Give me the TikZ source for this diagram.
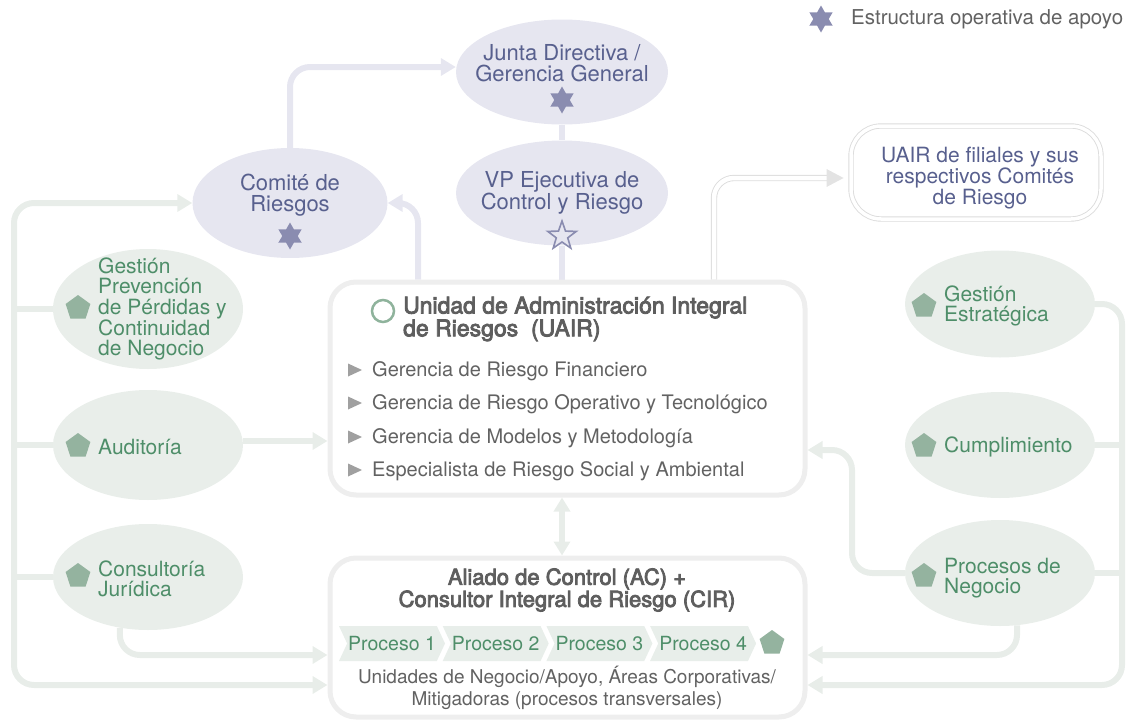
\documentclass[tikz,border=0pt]{standalone}
\usepackage{fontspec}
\setmainfont{TeX Gyre Heros}
\newfontfamily\mediumfont[FakeBold=3.5]{TeX Gyre Heros}
\usetikzlibrary{shapes.geometric,shapes.symbols,arrows.meta,calc}

\definecolor{lavfill}{HTML}{E6E6F0}
\definecolor{lavtext}{HTML}{58608E}
\definecolor{starc}{HTML}{8A8CB0}
\definecolor{grnfill}{HTML}{E9EEEA}
\definecolor{grntext}{HTML}{4E8E69}
\definecolor{pentc}{HTML}{94B39F}
\definecolor{lavline}{HTML}{E6E6F0}
\definecolor{grnline}{HTML}{E8EDE9}
\definecolor{boxline}{HTML}{EEEEEE}
\definecolor{bodytext}{HTML}{626262}
\definecolor{titletext}{HTML}{5E5E5E}
\definecolor{chevfill}{HTML}{E8EEEA}
\definecolor{dblline}{HTML}{DCDCDC}
\definecolor{bulletc}{HTML}{A0A0A0}
\definecolor{ringc}{HTML}{8FB39C}

\pgfdeclarelayer{bg}
\pgfsetlayers{bg,main}

\begin{document}
\begin{tikzpicture}[x=1pt,y=-1pt,
  lavell/.style={ellipse, fill=lavfill, inner sep=0pt, minimum width=212pt, minimum height=105pt},
  grnell/.style={ellipse, fill=grnfill, inner sep=0pt, minimum width=190pt},
  lavtxt/.style={text=lavtext, align=center, font=\fontsize{22}{21}\selectfont, inner sep=0pt},
  grntxt/.style={text=grntext, align=left, font=\fontsize{21}{20.2}\selectfont, inner sep=0pt, anchor=west},
  sixstar/.style={star, star points=6, star point ratio=1.75, fill=starc, minimum size=27pt, inner sep=0pt},
  openstar/.style={star, star points=5, star point ratio=2.5, draw=starc, line width=1.6pt, minimum size=30pt, inner sep=0pt},
  pent/.style={regular polygon, regular polygon sides=5, fill=pentc, minimum size=26pt, inner sep=0pt},
  conn/.style={line width=6pt, rounded corners=20pt},
  lavconn/.style={conn, draw=lavline},
  grnconn/.style={conn, draw=grnline},
  tip/.style={-{Triangle[length=15pt,width=17pt]}},
  bigbox/.style={draw=boxline, line width=5pt, fill=white, rounded corners=26pt, minimum width=475pt, inner sep=0pt},
  item/.style={anchor=west, text=bodytext, font=\fontsize{20}{21}\selectfont, inner sep=0pt},
  chev/.style={signal, signal to=east, signal from=west, signal pointer angle=130, fill=chevfill,
    minimum width=106pt, minimum height=35pt, inner sep=0pt, text=grntext, font=\fontsize{19.5}{20}\selectfont},
  boxtitle/.style={text=titletext, align=center, font=\mediumfont\fontsize{22}{21}\selectfont, inner sep=0pt}
]
\useasboundingbox (0,0) rectangle (1127,720);

% legend
\node[sixstar] (legstar) at (821,19) {};
\node[anchor=west, text=bodytext, font=\fontsize{20.5}{21}\selectfont, inner sep=0pt] (legtxt) at (851,19) {Estructura operativa de apoyo};

% governance bodies
\node[lavell] (junta) at (562,72) {};
\node[lavtxt] (juntatxt) at (562,63) {Junta Directiva /\\Gerencia General};
\node[sixstar] (juntastar) at (562,100) {};

\node[lavell] (vp) at (562,193) {};
\node[lavtxt] (vptxt) at (562,193) {VP Ejecutiva de\\Control y Riesgo};
\node[openstar] (vpstar) at (562,236) {};

\node[lavell, minimum width=195pt, minimum height=110pt] (comite) at (290,203) {};
\node[lavtxt] (comitetxt) at (290,195) {Comité de\\Riesgos};
\node[sixstar] (comitestar) at (290,236) {};

% subsidiaries
\node[draw=dblline, line width=0.9pt, double=white, double distance=3.5pt, rounded corners=30pt,
      minimum width=250pt, minimum height=93pt, inner sep=0pt] (filiales) at (976,172.5) {};
\node[lavtxt, font=\fontsize{21}{21}\selectfont] (filtxt) at (980,178) {UAIR de filiales y sus\\respectivos Comités\\de Riesgo};

% left support areas
\node[grnell, minimum height=120pt] (gpp) at (148,309) {};
\node[pent] (gpppent) at (78,308) {};
\node[grntxt] (gpptxt) at (98,309) {Gestión\\Prevención\\de Pérdidas y\\Continuidad\\de Negocio};

\node[grnell, minimum height=110pt] (aud) at (148,445) {};
\node[pent] (audpent) at (78,446) {};
\node[grntxt] (audtxt) at (98,447) {Auditoría};

\node[grnell, minimum height=106pt] (cons) at (148,577) {};
\node[pent] (conspent) at (78,576) {};
\node[grntxt] (constxt) at (98,579) {Consultoría\\Jurídica};

% right support areas
\node[grnell, minimum height=107pt] (gest) at (1000,304) {};
\node[pent] (gestpent) at (924,306) {};
\node[grntxt] (gesttxt) at (944,306) {Gestión\\Estratégica};

\node[grnell, minimum height=106pt] (cump) at (1000,445) {};
\node[pent] (cumppent) at (924,446) {};
\node[grntxt] (cumptxt) at (944,447) {Cumplimiento};

\node[grnell, minimum height=106pt] (proc) at (1000,573) {};
\node[pent] (procpent) at (924,576) {};
\node[grntxt] (proctxt) at (944,578) {Procesos de\\Negocio};

% UAIR
\node[bigbox, minimum height=213pt] (uair) at (567.5,388.5) {};
\node[circle, draw=ringc, line width=2.5pt, minimum size=22pt, inner sep=0pt] (ring) at (383,311) {};
\node[boxtitle, align=left, anchor=west, font=\mediumfont\fontsize{23}{21}\selectfont] (uairtitle) at (403,319) {Unidad de Administración Integral\\de Riesgos\ \ (UAIR)};
\foreach \n/\t/\y in {1/Gerencia de Riesgo Financiero/370,
                      2/Gerencia de Riesgo Operativo y Tecnológico/403,
                      3/Gerencia de Modelos y Metodología/437,
                      4/Especialista de Riesgo Social y Ambiental/470}{
  \fill[bulletc] (348,\y-6.5) -- (362,\y) -- (348,\y+6.5) -- cycle;
  \node[item] (item\n) at (372,\y+1) {\t};
}

% first-line units
\node[bigbox, minimum height=159pt] (ac) at (567.5,637.5) {};
\node[boxtitle] (actitle) at (567,590) {Aliado de Control (AC) +\\Consultor Integral de Riesgo (CIR)};
\node[chev] (p1) at (392,643.5) {Proceso 1};
\node[chev] (p2) at (495.7,643.5) {Proceso 2};
\node[chev] (p3) at (599.4,643.5) {Proceso 3};
\node[chev] (p4) at (703.1,643.5) {Proceso 4};
\node[pent] (acpent) at (772,643) {};
\node[text=bodytext, align=center, font=\fontsize{19}{22}\selectfont, inner sep=0pt] (actxt) at (567,688)
  {Unidades de Negocio/Apoyo, Áreas Corporativas/\\Mitigadoras (procesos transversales)};

% connector routing points
\coordinate (lbus) at (14,685);
\coordinate (rbus) at (1122,685);
\coordinate (lvl1) at (0,655);
\coordinate (ux) at (418,0);
\coordinate (fx) at (714,0);
\coordinate (pj) at (852,450);

\begin{pgfonlayer}{bg}
  % reporting line
  \draw[lavconn, tip] (comite.north) |- ($(junta.west)+(0,-5)$);
  \draw[lavconn] (junta.south) -- (vp.north);
  \draw[lavconn] (vp.south) -- (vp.south |- uair.north);
  \draw[lavconn, tip] (uair.north -| ux) |- (comite.east);

  % subsidiaries link
  \draw[draw=dblline, line width=0.9pt, double=white, double distance=4.5pt, rounded corners=20pt]
    (uair.north -| fx) |- ($(filiales.west)+(-22,5.5)$);
  \fill[dblline!80!white] ($(filiales.west)+(-24,-3.5)$) -- ($(filiales.west)+(-7,5.5)$) -- ($(filiales.west)+(-24,14.5)$) -- cycle;

  % left bus
  \draw[grnconn, {Triangle[length=15pt,width=17pt]}-{Triangle[length=15pt,width=17pt]}]
    (comite.west) -| (lbus) -- (ac.west |- lbus);
  \draw[grnconn] (gpp.west) -- (gpp.west -| lbus);
  \draw[grnconn] (aud.west) -- (aud.west -| lbus);
  \draw[grnconn] (cons.west) -- (cons.west -| lbus);
  \draw[grnconn, tip] ($(aud.east)+(0,-4)$) -- ($(aud.east -| uair.west)+(0,-4)$);
  \draw[grnconn, tip] (cons.-119) |- (ac.west |- lvl1);

  % right bus
  \draw[grnconn, tip] (gest.east) -| (rbus) -- (ac.east |- rbus);
  \draw[grnconn] (cump.east) -- (cump.east -| rbus);
  \draw[grnconn] (proc.east) -- (proc.east -| rbus);
  \draw[grnconn, tip] (proc.-72) |- (ac.east |- lvl1);
  \draw[grnconn, tip] (proc.west) -| (pj) -- (uair.east |- pj);

  % UAIR <-> first line
  \draw[grnconn, {Triangle[length=14pt,width=16pt]}-{Triangle[length=14pt,width=16pt]}]
    (uair.south -| vp.south) -- (ac.north -| vp.south);
\end{pgfonlayer}
\end{tikzpicture}
\end{document}
